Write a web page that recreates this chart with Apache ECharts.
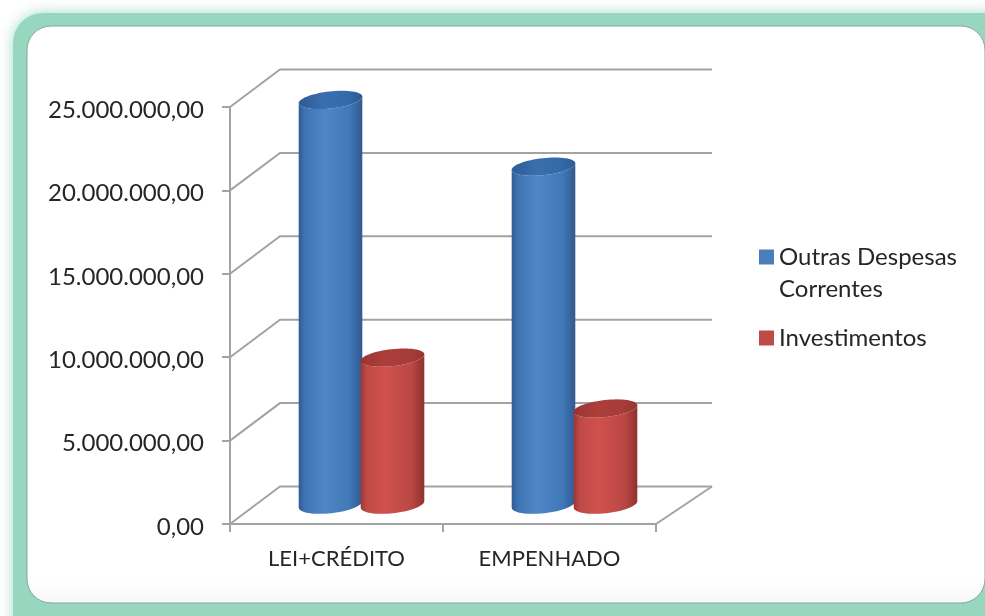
<!DOCTYPE html>
<html><head><meta charset="utf-8">
<style>html,body{margin:0;padding:0;background:#fff}#c{width:985px;height:616px}</style>
<script src="https://cdn.jsdelivr.net/npm/echarts@6/dist/echarts.min.js"></script>
</head><body><div id="c"></div>
<script>
const categories = ['LEI+CRÉDITO', 'EMPENHADO'];
const outrasDespesas = [24300000, 20300000];
const investimentos = [8850000, 5800000];
const ticks = [0, 5000000, 10000000, 15000000, 20000000, 25000000];
const seriesNames = ['Outras Despesas\nCorrentes', 'Investimentos'];

const DX = 50, DY = 37.5, BW = 64, CENTER = 31, RY_TOP = 8.5, RY_BOT = 9, TILT = 0.11;
const chart = echarts.init(document.getElementById('c'), null, {renderer: 'canvas'});
const hgrad = c => new echarts.graphic.LinearGradient(0, 0, 1, 0, [
  {offset: 0, color: c[0]}, {offset: .1, color: c[1]}, {offset: .4, color: c[2]}, {offset: .8, color: c[3]}, {offset: 1, color: c[4]}]);

// point on a tilted ellipse, angle t measured on screen (0 = right, PI/2 = down)
function ep(cx, cy, rx, ry, t) {
  const a = rx * Math.cos(t), b = ry * Math.sin(t);
  return [cx + a * Math.cos(TILT) + b * Math.sin(TILT), cy - a * Math.sin(TILT) + b * Math.cos(TILT)];
}
function cyl(side, body, topFace) {
  return function (params, api) {
    const i = api.value(0), v = api.value(1);
    const top = api.coord([i, v]), base = api.coord([i, 0]);
    const cx = base[0] + DX / 2 + side * CENTER;
    const yb = base[1] - DY / 2 - 1, yt = top[1] - DY / 2;
    const rx = BW / 2;
    const outline = [];
    for (let k = 0; k <= 32; k++) outline.push(ep(cx, yb, rx, RY_BOT, Math.PI * k / 32));
    for (let k = 0; k <= 32; k++) outline.push(ep(cx, yt, rx, RY_TOP, Math.PI - Math.PI * k / 32));
    const topPts = [];
    for (let k = 0; k < 64; k++) topPts.push(ep(cx, yt, rx, RY_TOP, 2 * Math.PI * k / 64));
    return {type: 'group', children: [
      {type: 'polygon', shape: {points: outline}, style: {fill: hgrad(body)}},
      {type: 'polygon', shape: {points: topPts}, style: {fill: hgrad(topFace)}}
    ]};
  };
}
function walls(params, api) {
  const v = api.value(0);
  const p = api.coord([0, v]);
  const x0 = params.coordSys.x, x1 = x0 + params.coordSys.width;
  const st = {stroke: '#a3a3a3', lineWidth: 2, fill: 'none'};
  const kids = [{type: 'polyline', shape: {points: [[x0, p[1]], [x0 + DX, p[1] - DY], [x1 + 56, p[1] - DY]]}, style: st}];
  if (v === 0) kids.push({type: 'line', shape: {x1: x1, y1: p[1], x2: x1 + 56, y2: p[1] - DY}, style: st});
  return {type: 'group', children: kids};
}
const fmt = v => v.toLocaleString('de-DE', {minimumFractionDigits: 2, maximumFractionDigits: 2});
const FONT = 'Lato';
const legendText = {fontFamily: FONT, fontSize: 24, lineHeight: 32, color: '#262626'};
chart.setOption({
  animation: false,
  backgroundColor: '#fff',
  graphic: [
    {type: 'rect', z: -10, shape: {x: 13, y: 13, width: 1000, height: 640, r: 30},
      style: {fill: '#97d7bf', shadowBlur: 14, shadowColor: 'rgba(151,215,191,0.9)'}},
    {type: 'rect', z: -9, shape: {x: 27, y: 26, width: 958, height: 577, r: 24},
      style: {fill: new echarts.graphic.LinearGradient(0, 0, 0, 1, [
        {offset: 0, color: '#ffffff'}, {offset: .96, color: '#ffffff'}, {offset: 1, color: '#f7f7f9'}]),
        stroke: '#86a59a', lineWidth: 1}}
  ],
  grid: {left: 230, right: 329, top: 107, bottom: 92},
  legend: [
    {orient: 'vertical', left: 754, top: 236, itemWidth: 15, itemHeight: 47, selectedMode: false,
      data: [{name: seriesNames[0], icon: 'path://M0 0H15V15H0ZM0 47L0 47'}], textStyle: legendText},
    {orient: 'vertical', left: 754, top: 317, itemWidth: 15, itemHeight: 15, selectedMode: false,
      data: [{name: seriesNames[1], icon: 'rect'}], textStyle: legendText}
  ],
  xAxis: {
    type: 'category', data: categories, boundaryGap: true,
    axisLine: {lineStyle: {color: '#a3a3a3', width: 2}},
    axisTick: {show: true, length: 8, alignWithLabel: false, lineStyle: {color: '#a3a3a3', width: 2}},
    axisLabel: {fontFamily: FONT, fontSize: 22, color: '#262626', margin: 24},
    splitLine: {show: false}
  },
  yAxis: {
    type: 'value', min: 0, max: 25000000, interval: 5000000,
    axisLine: {show: true, lineStyle: {color: '#a3a3a3', width: 2}},
    axisTick: {show: true, length: 8, lineStyle: {color: '#a3a3a3', width: 2}},
    axisLabel: {fontFamily: FONT, fontSize: 24, color: '#262626', margin: 26,
      formatter: v => '{a|' + fmt(v) + '}',
      rich: {a: {fontFamily: FONT, fontSize: 24, color: '#262626', padding: [6, 0, 0, 0]}}},
    splitLine: {show: false}
  },
  series: [
    {type: 'custom', silent: true, z: 1, clip: false, coordinateSystem: 'cartesian2d',
      data: ticks.map(t => [t]), encode: {y: 0}, renderItem: walls},
    {type: 'custom', name: seriesNames[0], z: 3, clip: false, itemStyle: {color: '#4a7ebb'},
      data: outrasDespesas.map((v, i) => [i, v]), encode: {x: 0, y: 1},
      renderItem: cyl(-1, ['#2e5c96', '#3f74b2', '#4f86c6', '#4078b8', '#33598f'], ['#2f5f9a', '#30609c', '#3a6fae', '#3369a6', '#2c5a92'])},
    {type: 'custom', name: seriesNames[1], z: 4, clip: false, itemStyle: {color: '#be4b48'},
      data: investimentos.map((v, i) => [i, v]), encode: {x: 0, y: 1},
      renderItem: cyl(1, ['#9c3734', '#c04a47', '#d0514d', '#ba4744', '#8e322f'], ['#96332f', '#a03835', '#ab3e3a', '#a63b38', '#96342f'])}
  ]
});
</script></body></html>
